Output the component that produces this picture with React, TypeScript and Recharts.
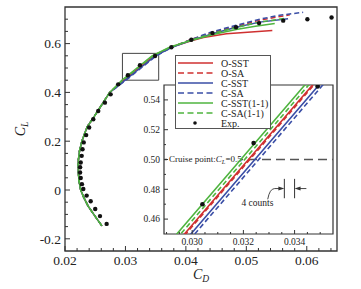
import React from 'react';
import { ComposedChart, Line, Scatter, XAxis, YAxis, ReferenceArea, ReferenceLine, ReferenceDot } from 'recharts';

const FONT = '"Liberation Serif", "Times New Roman", Times, serif';
const RED = '#cf3030';
const BLUE = '#3a4ea6';
const GREEN = '#4fb43f';
const INK = '#222';

// shared lower part of the computed polars (CL up to ~0.4)
const baseCD = [0.0261, 0.0249, 0.0238, 0.0231, 0.0226, 0.0223, 0.0222, 0.0222, 0.0224, 0.0228, 0.0233, 0.0237, 0.0248, 0.0261, 0.0274];
const baseCL = [-0.147, -0.105, -0.065, -0.03, 0.0, 0.04, 0.08, 0.12, 0.16, 0.2, 0.235, 0.26, 0.3, 0.35, 0.4];

const oSstCD = [0.0297, 0.0322, 0.0347, 0.0375, 0.0409, 0.0429, 0.0467, 0.0543];
const oSstCL = [0.45, 0.5, 0.55, 0.585, 0.612, 0.625, 0.64, 0.654];

const oSaCD = [0.02975, 0.03225, 0.03475, 0.0376, 0.0408, 0.044, 0.0483, 0.0522, 0.0572];
const oSaCL = [0.45, 0.5, 0.55, 0.586, 0.616, 0.643, 0.671, 0.696, 0.718];

const cSstCD = [0.02995, 0.03245, 0.03495, 0.0377, 0.0408, 0.0444, 0.0483, 0.0522, 0.0569];
const cSstCL = [0.45, 0.5, 0.55, 0.585, 0.613, 0.64, 0.667, 0.688, 0.702];

const cSaCD = [0.0301, 0.0326, 0.0351, 0.0378, 0.0409, 0.044, 0.0483, 0.0522, 0.0555, 0.0594];
const cSaCL = [0.45, 0.5, 0.55, 0.586, 0.617, 0.646, 0.675, 0.7, 0.716, 0.728];

const cSst11CD = [0.0294, 0.0319, 0.0344, 0.0373, 0.0408, 0.0445, 0.0483, 0.0515, 0.0547];
const cSst11CL = [0.45, 0.5, 0.55, 0.585, 0.613, 0.637, 0.658, 0.671, 0.682];

const cSa11CD = [0.02955, 0.03205, 0.03455, 0.0374, 0.0408, 0.0444, 0.0483, 0.0522, 0.0565];
const cSa11CL = [0.45, 0.5, 0.55, 0.585, 0.614, 0.641, 0.666, 0.688, 0.704];

const expCD = [0.02689, 0.02579, 0.025, 0.02425, 0.02358, 0.02303, 0.0228, 0.0226, 0.0225, 0.0225, 0.0226, 0.02276, 0.0229, 0.0231, 0.0235, 0.024, 0.02468, 0.0255, 0.0266, 0.02755, 0.0288, 0.0304, 0.0324, 0.0349, 0.0376, 0.0409, 0.0444, 0.0483, 0.0521, 0.0561, 0.0601, 0.0641];
const expCL = [-0.139, -0.107, -0.078, -0.046, -0.023, 0.004, 0.024, 0.049, 0.072, 0.093, 0.113, 0.14, 0.167, 0.195, 0.225, 0.256, 0.29, 0.324, 0.358, 0.392, 0.433, 0.47, 0.511, 0.549, 0.585, 0.616, 0.643, 0.667, 0.684, 0.694, 0.7, 0.707];

const xMajor = [0.02, 0.03, 0.04, 0.05, 0.06];
const xMinor = [0.022, 0.024, 0.026, 0.028, 0.032, 0.034, 0.036, 0.038, 0.042, 0.044, 0.046, 0.048, 0.052, 0.054, 0.056, 0.058, 0.062, 0.064];
const yMajor = [-0.2, 0, 0.2, 0.4, 0.6];
const yMinor = [-0.15, -0.1, -0.05, 0.05, 0.1, 0.15, 0.25, 0.3, 0.35, 0.45, 0.5, 0.55, 0.65, 0.7];

const inXMajor = [0.03, 0.032, 0.034];
const inXMinor = [0.029, 0.0295, 0.0305, 0.031, 0.0315, 0.0325, 0.033, 0.0335, 0.0345, 0.035];
const inYMajor = [0.46, 0.48, 0.5, 0.52, 0.54];
const inYMinor = [0.47, 0.49, 0.51, 0.53];

const zip = (cd: number[], cl: number[]) => cd.map((v, i) => ({ cd: v, cl: cl[i] }));
const base = zip(baseCD, baseCL);
const expData = zip(expCD, expCL);

type S = { name: string; color: string; dash?: string; data: { cd: number; cl: number }[] };
const series: S[] = [
  { name: 'O-SST', color: RED, data: [...base, ...zip(oSstCD, oSstCL)] },
  { name: 'O-SA', color: RED, dash: 'd', data: [...base, ...zip(oSaCD, oSaCL)] },
  { name: 'C-SST', color: BLUE, data: [...base, ...zip(cSstCD, cSstCL)] },
  { name: 'C-SA', color: BLUE, dash: 'd', data: [...base, ...zip(cSaCD, cSaCL)] },
  { name: 'C-SST(1-1)', color: GREEN, data: [...base, ...zip(cSst11CD, cSst11CL)] },
  { name: 'C-SA(1-1)', color: GREEN, dash: 'd', data: [...base, ...zip(cSa11CD, cSa11CL)] },
];
const drawOrder = [0, 1, 2, 3, 5, 4];

const makeXTick = (majors: number[], fmt: (v: number) => string, majLen: number, minLen: number, fs: number, dy: number) =>
  (props: any) => {
    const { x, y, payload } = props;
    const v = payload.value;
    const major = majors.includes(v);
    return (
      <g>
        <line x1={x} x2={x} y1={y} y2={y - (major ? majLen : minLen)} stroke="#333" strokeWidth={1} />
        {major && (
          <text x={x} y={y + dy} textAnchor="middle" fontSize={fs} fontFamily={FONT} fill={INK}>{fmt(v)}</text>
        )}
      </g>
    );
  };

const makeYTick = (majors: number[], fmt: (v: number) => string, majLen: number, minLen: number, fs: number, gap: number) =>
  (props: any) => {
    const { x, y, payload } = props;
    const v = payload.value;
    const major = majors.includes(v);
    return (
      <g>
        <line x1={x} x2={x + (major ? majLen : minLen)} y1={y} y2={y} stroke="#333" strokeWidth={1} />
        {major && (
          <text x={x - gap} y={y} dy="0.35em" textAnchor="end" fontSize={fs} fontFamily={FONT} fill={INK}>{fmt(v)}</text>
        )}
      </g>
    );
  };

const mainXTick = makeXTick(xMajor, (v) => v.toFixed(2), 5, 3, 13.5, 14);
const mainYTick = makeYTick(yMajor, (v) => (v === 0 ? '0' : v.toFixed(1)), 5, 3, 13.5, 4);
const inXTick = makeXTick(inXMajor, (v) => v.toFixed(3), 4, 2, 9.5, 11);
const inYTick = makeYTick(inYMajor, (v) => v.toFixed(2), 4, 2, 9.5, 4);

const XTitle = (props: any) => {
  const { viewBox } = props;
  const cx = viewBox.x + viewBox.width / 2;
  return (
    <text x={cx} y={viewBox.y + 28} textAnchor="middle" fontFamily={FONT} fontSize={14} fill={INK}>
      <tspan fontStyle="italic">C</tspan>
      <tspan fontStyle="italic" fontSize={9.5} dy={3}>D</tspan>
    </text>
  );
};

const YTitle = (props: any) => {
  const { viewBox } = props;
  const cx = viewBox.x + 25;
  const cy = viewBox.y + viewBox.height / 2;
  return (
    <text x={cx} y={cy} transform={`rotate(-90, ${cx}, ${cy})`} textAnchor="middle" fontFamily={FONT} fontSize={14} fill={INK}>
      <tspan fontStyle="italic">C</tspan>
      <tspan fontStyle="italic" fontSize={9.5} dy={3}>L</tspan>
    </text>
  );
};

const CruiseLabel = (props: any) => {
  const { viewBox } = props;
  const x = viewBox.x;
  const y = viewBox.y;
  return (
    <g>
      <rect x={x + 3} y={y - 6} width={73} height={10} fill="#fff" />
      <text x={x + 5} y={y + 2.5} fontSize={9} fontFamily={FONT} fill={INK}>
        Cruise point:<tspan fontStyle="italic">C</tspan>
        <tspan fontStyle="italic" fontSize={6.5} dy={2}>L</tspan>
        <tspan dy={-2}>=0.5</tspan>
      </text>
    </g>
  );
};

const LeaderArrow = (p: any) => {
  const { x1, y1, x2, y2 } = p;
  return (
    <g>
      <path d={`M${x1},${y1} Q${x1 + 2},${y2} ${x1 + 7},${y2} L${x2 - 5},${y2}`} fill="none" stroke="#333" strokeWidth={0.9} />
      <path d={`M${x2},${y2} L${x2 - 6},${y2 - 2} L${x2 - 6},${y2 + 2} Z`} fill="#333" />
    </g>
  );
};

const StraightArrow = (p: any) => {
  const { x1, y1, x2, y2 } = p;
  return (
    <g>
      <line x1={x1} y1={y1} x2={x2 + 5} y2={y2} stroke="#333" strokeWidth={0.9} />
      <path d={`M${x2},${y2} L${x2 + 6},${y2 - 2} L${x2 + 6},${y2 + 2} Z`} fill="#333" />
    </g>
  );
};

const CountsText = (p: any) => (
  <text x={p.cx} y={p.cy} textAnchor="middle" fontSize={9.5} fontFamily={FONT} fill={INK}>4 counts</text>
);

const dotShape = (r: number) => (p: any) => <circle cx={p.cx} cy={p.cy} r={r} fill="#111" />;

const renderLines = (dashArr: string, width: number) =>
  drawOrder.map((i) => {
    const s = series[i];
    return (
      <Line
        key={s.name}
        data={s.data}
        dataKey="cl"
        type="linear"
        stroke={s.color}
        strokeWidth={width}
        strokeDasharray={s.dash ? dashArr : undefined}
        dot={false}
        activeDot={false}
        isAnimationActive={false}
      />
    );
  });

const Legend = () => {
  const rows = [...series.map((s) => ({ name: s.name, color: s.color, dash: s.dash, dot: false })), { name: 'Exp.', color: '#111', dash: undefined, dot: true }];
  return (
    <svg width={96} height={74} style={{ position: 'absolute', left: 175, top: 55 }}>
      <rect x={0.5} y={0.5} width={95} height={73} fill="#fff" stroke="#555" strokeWidth={1} />
      {rows.map((r, i) => {
        const y = 8 + i * 10;
        return (
          <g key={r.name}>
            {r.dot ? (
              <circle cx={20} cy={y} r={1.8} fill="#111" />
            ) : (
              <line x1={3} x2={38} y1={y} y2={y} stroke={r.color} strokeWidth={1.5} strokeDasharray={r.dash ? '6 3.5' : undefined} />
            )}
            <text x={46} y={y + 3.5} fontSize={10} fontFamily={FONT} fill={INK}>{r.name}</text>
          </g>
        );
      })}
    </svg>
  );
};

export default function App() {
  return (
    <div style={{ position: 'absolute', left: 0, top: 0, width: 361, height: 289, background: '#fff', overflow: 'hidden' }}>
      <div style={{ position: 'absolute', left: 0, top: 0 }}>
        <ComposedChart width={361} height={289} margin={{ top: 7, right: 24, bottom: 0, left: 0 }}>
          <XAxis
            dataKey="cd"
            type="number"
            domain={[0.02, 0.065]}
            allowDataOverflow
            ticks={[...xMajor, ...xMinor]}
            interval={0}
            tickSize={0}
            tickMargin={0}
            tickLine={false}
            axisLine={false}
            height={38}
            tick={mainXTick}
            label={{ content: XTitle }}
          />
          <YAxis
            dataKey="cl"
            type="number"
            domain={[-0.25, 0.75]}
            allowDataOverflow
            ticks={[...yMajor, ...yMinor]}
            interval={0}
            tickSize={0}
            tickMargin={0}
            tickLine={false}
            axisLine={false}
            width={65}
            tick={mainYTick}
            label={{ content: YTitle }}
          />
          <ReferenceArea x1={0.02} x2={0.065} y1={-0.25} y2={0.75} fill="none" stroke="#333" strokeWidth={1.3} />
          <ReferenceArea x1={0.0295} x2={0.0355} y1={0.45} y2={0.56} fill="none" stroke="#444" strokeWidth={1} />
          {renderLines('5 3', 1.5)}
          <Scatter data={expData} dataKey="cl" shape={dotShape(2.2)} isAnimationActive={false} />
        </ComposedChart>
      </div>
      <div style={{ position: 'absolute', left: 164, top: 85, width: 169, height: 149, background: '#fff' }} />
      <div style={{ position: 'absolute', left: 120, top: 80 }}>
        <ComposedChart width={218} height={172} margin={{ top: 5, right: 5, bottom: 0, left: 0 }}>
          <XAxis
            dataKey="cd"
            type="number"
            domain={[0.0289, 0.0355]}
            allowDataOverflow
            ticks={[...inXMajor, ...inXMinor]}
            interval={0}
            tickSize={0}
            tickMargin={0}
            tickLine={false}
            axisLine={false}
            height={18}
            tick={inXTick}
          />
          <YAxis
            dataKey="cl"
            type="number"
            domain={[0.45, 0.55]}
            allowDataOverflow
            ticks={[...inYMajor, ...inYMinor]}
            interval={0}
            tickSize={0}
            tickMargin={0}
            tickLine={false}
            axisLine={false}
            width={44}
            tick={inYTick}
          />
          <ReferenceLine y={0.5} stroke="#555" strokeWidth={1.6} strokeDasharray="9 5" label={{ content: CruiseLabel }} />
          {renderLines('5 3', 1.6)}
          <Scatter data={expData} dataKey="cl" shape={dotShape(2.3)} isAnimationActive={false} />
          <ReferenceLine segment={[{ x: 0.0336, y: 0.474 }, { x: 0.0336, y: 0.487 }]} stroke="#333" strokeWidth={1} />
          <ReferenceLine segment={[{ x: 0.034, y: 0.474 }, { x: 0.034, y: 0.487 }]} stroke="#333" strokeWidth={1} />
          <ReferenceLine segment={[{ x: 0.03295, y: 0.4733 }, { x: 0.0336, y: 0.4805 }]} shape={LeaderArrow} />
          <ReferenceLine segment={[{ x: 0.03446, y: 0.4805 }, { x: 0.034, y: 0.4805 }]} shape={StraightArrow} />
          <ReferenceDot x={0.03255} y={0.4687} r={0} shape={CountsText} />
          <ReferenceArea x1={0.0289} x2={0.0355} y1={0.45} y2={0.55} fill="none" stroke="#333" strokeWidth={1.2} />
        </ComposedChart>
      </div>
      <Legend />
    </div>
  );
}
